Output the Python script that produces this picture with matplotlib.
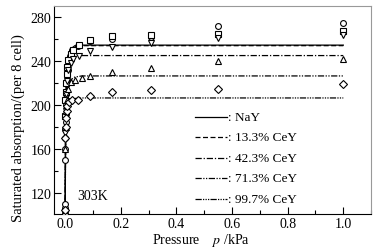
import matplotlib.pyplot as plt
from matplotlib.lines import Line2D
from matplotlib.ticker import MultipleLocator

plt.rcParams['font.family'] = ['Liberation Serif', 'DejaVu Serif']
plt.rcParams['mathtext.fontset'] = 'stix'

# measured points, one list pair per sample
p_nay = [0.0, 0.0, 0.0, 0.0, 0.0, 0.0, 0.001, 0.001, 0.002, 0.002, 0.003, 0.004, 0.006, 0.009, 0.015, 0.025, 0.045, 0.09, 0.17, 0.31, 0.55, 1.0]
q_nay = [101, 104, 107, 110, 150, 160, 170, 178, 185, 192, 200, 210, 220, 232, 242, 250, 254, 258, 260, 262, 272, 275]
p_133 = [0.0, 0.001, 0.002, 0.003, 0.005, 0.008, 0.012, 0.02, 0.03, 0.05, 0.09, 0.17, 0.31, 0.55, 1.0]
q_133 = [190, 205, 212, 220, 228, 235, 241, 246, 250, 255, 259, 263, 264, 265, 267]
p_423 = [0.0, 0.002, 0.004, 0.007, 0.012, 0.02, 0.03, 0.05, 0.09, 0.17, 0.31, 0.55, 1.0]
q_423 = [175, 195, 210, 222, 232, 238, 242, 245, 249, 253, 256, 261, 264]
p_713 = [0.0, 0.002, 0.004, 0.007, 0.012, 0.02, 0.035, 0.06, 0.09, 0.17, 0.31, 0.55, 1.0]
q_713 = [160, 180, 195, 205, 215, 221, 223, 225, 226.5, 230, 234, 240, 242]
p_997 = [0.0, 0.0, 0.001, 0.002, 0.003, 0.005, 0.008, 0.015, 0.025, 0.045, 0.09, 0.17, 0.31, 0.55, 1.0]
q_997 = [100, 105, 170, 180, 188, 195, 199, 203, 205, 205, 208.5, 211.5, 213.5, 215, 219]

# fitted curves
fit_p = [0.0, 0.002, 0.005, 0.01, 0.02, 0.035, 0.06, 1.0]
fit_nay = [100, 200, 232, 245, 251, 254, 254.5, 254.5]
fit_133 = [100, 198, 230, 244, 250, 253, 254, 254]
fit_423 = [100, 192, 222, 236, 242, 244, 245, 245]
fit_713 = [100, 180, 207, 218, 223, 225.5, 226.5, 226.5]
fit_997 = [100, 168, 190, 199, 204, 206, 206.5, 206.5]

labels = [': NaY', ': 13.3% CeY', ': 42.3% CeY', ': 71.3% CeY', ': 99.7% CeY']
markers = ['o', 's', 'v', '^', 'D']
styles = ['-', (0, (4, 2)), (0, (5, 1.5, 1, 1.5)), (0, (5, 1.2, 1, 1.2, 1, 1.2)), (0, (5, 1, 1, 1, 1, 1, 1, 1))]

fig = plt.figure(figsize=(3.83, 2.51), dpi=100)
ax = fig.add_axes([0.141, 0.143, 0.828, 0.829])

pts = [(p_nay, q_nay), (p_133, q_133), (p_423, q_423), (p_713, q_713), (p_997, q_997)]
fits = [fit_nay, fit_133, fit_423, fit_713, fit_997]
for (px, qy), fq, m, ls in zip(pts, fits, markers, styles):
    ms = 3.6 if m == 'D' else 4.2
    ax.plot(px, qy, linestyle='none', marker=m, ms=ms, mfc='white', mec='black', mew=0.8, zorder=3)
    ax.plot(fit_p, fq, color='black', lw=0.9, linestyle=ls, zorder=2)

ax.set_xlim(-0.04, 1.1)
ax.set_ylim(101, 290)
ax.xaxis.set_minor_locator(MultipleLocator(0.1))
ax.yaxis.set_minor_locator(MultipleLocator(20))
ax.set_xticks([0, 0.2, 0.4, 0.6, 0.8, 1.0])
ax.set_xticklabels(['0.0', '0.2', '0.4', '0.6', '0.8', '1.0'])
ax.set_yticks([120, 160, 200, 240, 280])
ax.tick_params(which='both', direction='in', labelsize=10, top=False, right=False, pad=2)
ax.tick_params(which='major', length=5, width=0.8)
ax.tick_params(which='minor', length=3, width=0.8)
for s in ['top', 'right']:
    ax.spines[s].set_color('#999999')
ax.spines['left'].set_linewidth(0.8)
ax.spines['bottom'].set_linewidth(0.8)

fig.text(18 / 383, 1 - 128 / 251, 'Saturated absorption/(per 8 cell)', fontsize=10.5,
         rotation=90, ha='center', va='center')
fig.text(201 / 383, 1 - 241 / 251, 'Pressure    $p$ /kPa', fontsize=10, ha='center', va='center')
ax.text(0.045, 118, '303K', fontsize=10, va='center')

# manual legend
tr = ax.transAxes
for i, (lab, ls) in enumerate(zip(labels, styles)):
    y = (215 - 118 - i * 20.5) / 207.0
    ax.add_line(Line2D([0.445, 0.545], [y, y], transform=tr, color='black', lw=0.9, linestyle=ls))
    ax.text(0.55, y, lab, transform=tr, fontsize=9.5, va='center')

fig.savefig('out.png', dpi=100)
